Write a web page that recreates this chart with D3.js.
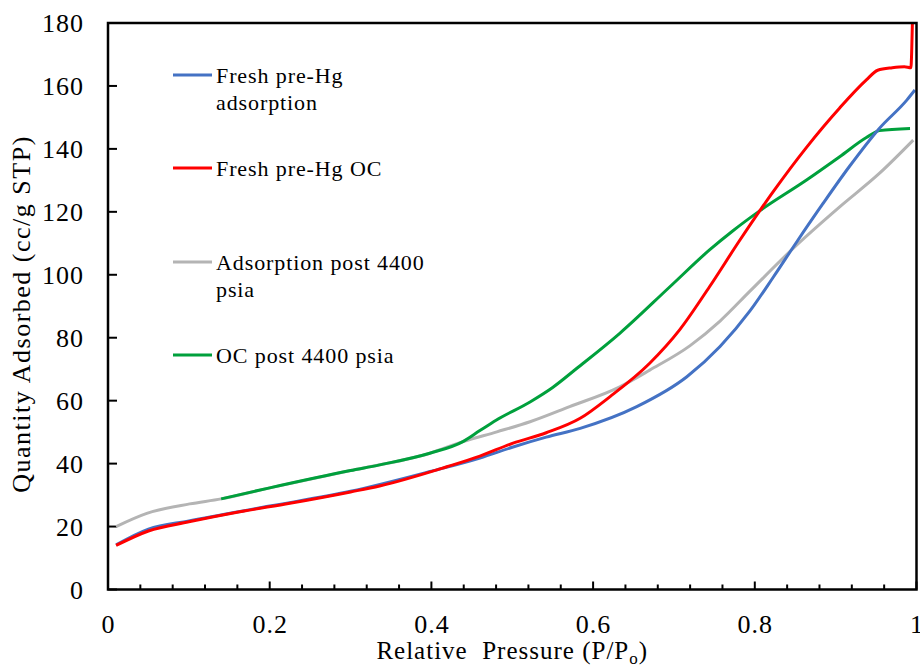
<!DOCTYPE html>
<html>
<head>
<meta charset="utf-8">
<script src="https://cdn.jsdelivr.net/npm/d3@7"></script>
<style>
  body { margin: 0; background: #fff; }
  svg { display: block; font-family: "Liberation Serif", "Times New Roman", serif; }
</style>
</head>
<body>
<div id="chart"></div>
<script>
// isotherm data: [relative pressure, quantity adsorbed]
const freshAdsorption = [
  [0.01, 14.2], [0.05, 19.2], [0.1, 21.8], [0.2, 26.5], [0.3, 31.2], [0.4, 37.6],
  [0.46, 41.8], [0.5, 45.2], [0.542, 48.4], [0.584, 51.2], [0.654, 58.1], [0.716, 67.6],
  [0.757, 77.2], [0.794, 88.5], [0.823, 99.3], [0.852, 110.5], [0.884, 122.5],
  [0.917, 134.4], [0.954, 146.5], [0.988, 155.5], [0.998, 158.7]
];
const freshOC = [
  [0.01, 14], [0.05, 18.6], [0.1, 21.5], [0.163, 24.7], [0.225, 27.4], [0.3, 31],
  [0.336, 32.9], [0.419, 39], [0.46, 42.4], [0.501, 46.5], [0.542, 49.8], [0.584, 54.4],
  [0.621, 61.3], [0.67, 71.9], [0.707, 82.5], [0.744, 96.2], [0.781, 110.8], [0.823, 126.5],
  [0.864, 140.5], [0.905, 153], [0.938, 161.9], [0.952, 165], [0.97, 165.8],
  [0.985, 166.1], [0.993, 165.8], [0.995, 181]
];
const adsorptionPost = [
  [0.01, 20], [0.048, 24.2], [0.101, 27.2], [0.14, 28.8], [0.2, 32.3], [0.3, 37.8],
  [0.398, 43.3], [0.439, 47], [0.481, 50.1], [0.522, 53.3], [0.571, 58.1], [0.633, 64.4],
  [0.67, 69.7], [0.72, 77.5], [0.757, 85.3], [0.794, 94.8], [0.852, 109.5], [0.905, 121.6],
  [0.954, 132.2], [0.996, 142.8]
];
const ocPost = [
  [0.14, 28.8], [0.2, 32.3], [0.3, 37.8], [0.336, 39.6], [0.398, 43.3], [0.439, 47],
  [0.46, 50.5], [0.48, 53.8], [0.522, 59.6], [0.55, 64.2], [0.58, 70.3], [0.633, 81.4],
  [0.695, 96.2], [0.744, 107.9], [0.773, 114], [0.806, 120.3], [0.864, 130.1],
  [0.905, 137.5], [0.938, 143.6], [0.954, 145.8], [0.992, 146.5]
];

const seriesNames = ["Fresh pre-Hg adsorption", "Fresh pre-Hg OC", "Adsorption post 4400 psia", "OC post 4400 psia"];
const legendLines = [["Fresh pre-Hg", "adsorption"], ["Fresh pre-Hg OC"], ["Adsorption post 4400", "psia"], ["OC post 4400 psia"]];
const seriesColors = ["#4472C4", "#FF0000", "#B4B4B4", "#00A03C"];
const xTicks = [0, 0.2, 0.4, 0.6, 0.8, 1];
const yTicks = [0, 20, 40, 60, 80, 100, 120, 140, 160, 180];

const width = 920, height = 668;
const margin = { top: 23, right: 3.5, bottom: 78.5, left: 108 };
const innerW = width - margin.left - margin.right;
const innerH = height - margin.top - margin.bottom;

const svg = d3.select("#chart").append("svg")
  .attr("width", width)
  .attr("height", height);

const x = d3.scaleLinear().domain([0, 1]).range([0, innerW]);
const y = d3.scaleLinear().domain([0, 180]).range([innerH, 0]);

const g = svg.append("g").attr("transform", `translate(${margin.left},${margin.top})`);

svg.append("defs").append("clipPath").attr("id", "plot-clip")
  .append("rect").attr("width", innerW).attr("height", innerH);

// x ticks every 0.04 (longer at labelled values), pointing inward
const minorX = d3.range(0, 1.0001, 0.04);
g.append("g")
  .selectAll("line")
  .data(minorX)
  .join("line")
  .attr("x1", d => x(d)).attr("x2", d => x(d))
  .attr("y1", innerH).attr("y2", d => innerH - (Math.abs(d * 5 - Math.round(d * 5)) < 1e-6 ? 8 : 5))
  .attr("stroke", "#000").attr("stroke-width", 2);

g.append("g")
  .selectAll("line")
  .data(yTicks)
  .join("line")
  .attr("x1", 0).attr("x2", 9)
  .attr("y1", d => y(d)).attr("y2", d => y(d))
  .attr("stroke", "#000").attr("stroke-width", 2);

// tick labels
g.append("g")
  .selectAll("text")
  .data(xTicks)
  .join("text")
  .attr("x", d => x(d) + 0.5)
  .attr("y", innerH + 43)
  .attr("text-anchor", "middle")
  .attr("font-size", 26)
  .attr("letter-spacing", 1)
  .text(d => d3.format("")(d));

g.append("g")
  .selectAll("text")
  .data(yTicks)
  .join("text")
  .attr("x", -24)
  .attr("y", d => y(d))
  .attr("dy", "0.35em")
  .attr("text-anchor", "end")
  .attr("font-size", 26)
  .attr("letter-spacing", 1)
  .text(d => d);

// curves
const line = d3.line()
  .x(d => x(d[0]))
  .y(d => y(d[1]))
  .curve(d3.curveMonotoneX);

const allSeries = [freshAdsorption, freshOC, adsorptionPost, ocPost];
const drawOrder = [2, 3, 0, 1];
g.append("g")
  .attr("clip-path", "url(#plot-clip)")
  .selectAll("path")
  .data(drawOrder)
  .join("path")
  .attr("d", i => line(allSeries[i]))
  .attr("fill", "none")
  .attr("stroke", i => seriesColors[i])
  .attr("stroke-width", 3)
  .attr("stroke-linejoin", "round");

// frame
g.append("rect")
  .attr("width", innerW).attr("height", innerH)
  .attr("fill", "none").attr("stroke", "#000").attr("stroke-width", 2.5);

// legend
const legendY = [75, 168, 262, 355];
const legend = svg.append("g")
  .selectAll("g")
  .data(seriesNames)
  .join("g")
  .attr("transform", (d, i) => `translate(173,${legendY[i]})`);

legend.append("line")
  .attr("x1", 0).attr("x2", 39)
  .attr("stroke", (d, i) => seriesColors[i])
  .attr("stroke-width", 3);

legend.each(function (d, i) {
  const t = d3.select(this).append("text")
    .attr("x", 43)
    .attr("y", 8)
    .attr("font-size", 22)
    .attr("letter-spacing", 0.9);
  legendLines[i].forEach((s, k) => {
    t.append("tspan").attr("x", 43).attr("dy", k === 0 ? 0 : 27).text(s);
  });
});

// axis titles
const xTitle = svg.append("text")
  .attr("x", margin.left + innerW / 2)
  .attr("y", 659)
  .attr("text-anchor", "middle")
  .attr("font-size", 25)
  .attr("letter-spacing", 1)
  .attr("xml:space", "preserve")
  .text("Relative  Pressure (P/P");
xTitle.append("tspan").attr("font-size", 17).attr("dy", 5).text("o");
xTitle.append("tspan").attr("dy", -5).text(")");

svg.append("text")
  .attr("transform", "translate(30,314) rotate(-90)")
  .attr("text-anchor", "middle")
  .attr("font-size", 26)
  .attr("letter-spacing", 1.5)
  .text("Quantity Adsorbed (cc/g STP)");
</script>
</body>
</html>
